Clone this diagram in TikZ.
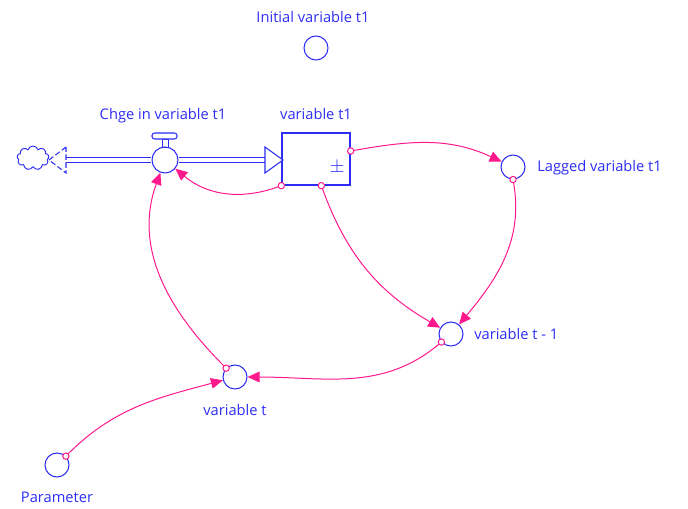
\documentclass[tikz,border=0pt]{standalone}
\usepackage{fontspec}
\setmainfont{Open Sans}
\usetikzlibrary{arrows.meta,shapes.symbols}
\definecolor{simblue}{RGB}{45,45,245}
\definecolor{linkpink}{RGB}{255,25,140}

\begin{document}
\begin{tikzpicture}[x=0.75pt,y=0.75pt,
    var/.style={circle, draw=simblue, line width=0.8pt, minimum size=18pt, inner sep=0pt},
    lbl/.style={text=simblue, font=\fontsize{11}{13}\selectfont, inner sep=0pt},
    pipe/.style={draw=simblue, double=white, double distance=3pt, line width=0.8pt},
    link/.style={draw=linkpink, line width=0.75pt,
        {Circle[fill=white,length=5.5pt,width=5.5pt]}-{Triangle[length=9pt,width=8pt]},
        shorten <=-2.75pt}]
    \useasboundingbox (0,0) rectangle (688,508);

    % stock, valve and cloud
    \node[draw=simblue, line width=1pt, minimum width=51pt, minimum height=39pt, inner sep=0pt] (stock) at (316,349) {};
    \node[lbl, font=\fontsize{14}{14}\selectfont] (pm) at (337,340) {$\pm$};
    \node[var, minimum size=19.5pt] (valve) at (165,348) {};
    \node[cloud, cloud puffs=9, draw=simblue, line width=0.7pt, minimum width=24pt, minimum height=18pt, inner sep=0pt] (sink) at (33,350) {};

    % valve handle
    \draw[simblue, line width=0.7pt] (162,361) rectangle (168,369);
    \draw[simblue, line width=0.8pt, fill=white, rounded corners=2pt] (152,369) rectangle (177,375);

    % flow pipe
    \draw[pipe] (66,348) -- (valve.west);
    \draw[pipe] (valve.east) -- (265,348);
    \draw[simblue, line width=0.8pt, fill=white] (265,361) -- (283,348) -- (265,335) -- cycle;
    \draw[simblue, line width=0.8pt, dashed, dash pattern=on 4pt off 2pt] (66,361) -- (49,348) -- (66,335) -- cycle;

    % auxiliaries
    \node[var] (init) at (316,460) {};
    \node[var] (lagged) at (513,341) {};
    \node[var] (tm1) at (451,174) {};
    \node[var] (vt) at (235,131) {};
    \node[var] (param) at (57,43) {};

    % Labels
    \node[lbl] (initlbl) at (313,491) {Initial variable t1};
    \node[lbl] (valvelbl) at (163,392) {Chge in variable t1};
    \node[lbl] (stocklbl) at (316,394) {variable t1};
    \node[lbl, anchor=west] (laggedlbl) at (537,340) {Lagged variable t1};
    \node[lbl, anchor=west] (tm1lbl) at (474,174) {variable t - 1};
    \node[lbl] (vtlbl) at (235,98) {variable t};
    \node[lbl] (paramlbl) at (57,11) {Parameter};

    % links
    \draw[link] (stock.south west) to[out=200,in=-40] (valve);
    \draw[link] ([yshift=6pt]stock.east) to[out=10,in=155] (lagged);
    \draw[link] (lagged.south) to[out=-80,in=50] (tm1);
    \draw[link] ([xshift=4pt]stock.south) to[out=-70,in=150] (tm1);
    \draw[link] (tm1) to[out=-140,in=0] (vt);
    \draw[link] (vt) to[out=135,in=-110] (valve);
    \draw[link] (param) to[out=45,in=195] (vt);
\end{tikzpicture}
\end{document}
